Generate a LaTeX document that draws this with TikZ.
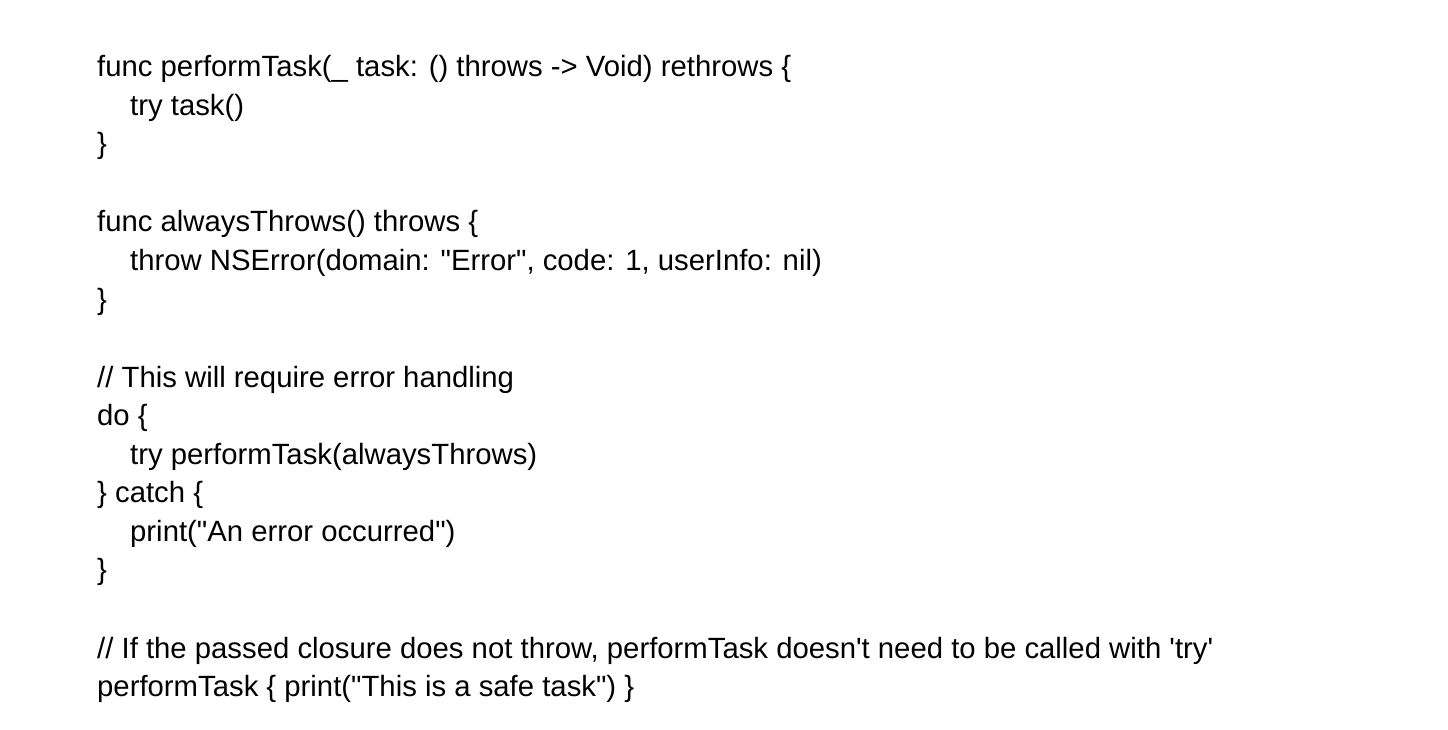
\documentclass[tikz,border=0pt]{standalone}
\usepackage{fontspec}
\newfontfamily\codefont{Liberation Sans}
\begin{document}
\begin{tikzpicture}[x=1pt,y=-1pt,
  ln/.style={anchor=base west,inner sep=0pt,font=\codefont\fontsize{29.3}{32}\selectfont}]
\useasboundingbox[fill=white] (0,0) rectangle (1448,730);
\node[ln] (l1) at (97,77) {func performTask(\_ task: () throws -> Void) rethrows \{};
\node[ln] (l2) at (130,115.5) {try task()};
\node[ln] (l3) at (97,154) {\}};
\node[ln] (l5) at (97,232) {func alwaysThrows() throws \{};
\node[ln] (l6) at (130,270.5) {throw NSError(domain: "Error", code: 1, userInfo: nil)};
\node[ln] (l7) at (97,309) {\}};
\node[ln] (l9) at (97,387) {// This will require error handling};
\node[ln] (l10) at (97,425.5) {do \{};
\node[ln] (l11) at (130,464) {try performTask(alwaysThrows)};
\node[ln] (l12) at (97,502.5) {\} catch \{};
\node[ln] (l13) at (130,541) {print("An error occurred")};
\node[ln] (l14) at (97,579.5) {\}};
\node[ln] (l16) at (97,658) {// If the passed closure does not throw, performTask doesn't need to be called with 'try'};
\node[ln] (l17) at (97,696.5) {performTask \{ print("This is a safe task") \}};
\end{tikzpicture}
\end{document}
